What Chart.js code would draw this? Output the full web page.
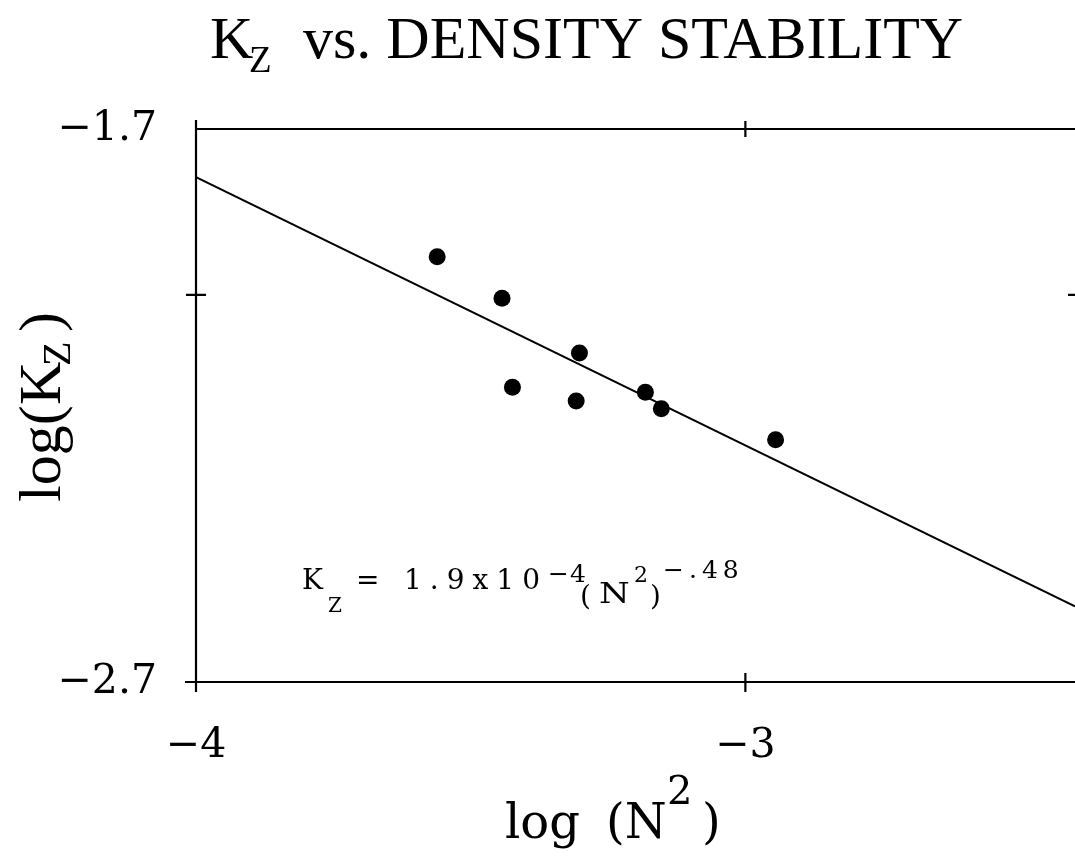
<!DOCTYPE html>
<html>
<head>
<meta charset="utf-8">
<script src="https://cdn.jsdelivr.net/npm/chart.js@4"></script>
<style>
  body { margin: 0; background: #fff; }
  #wrap { width: 1075px; height: 865px; }
</style>
</head>
<body>
<div id="wrap"><canvas id="chart" width="1075" height="865"></canvas></div>
<script>
// observed points, log(N^2) vs log(Kz)
var logN2 = [-3.561, -3.443, -3.302, -3.424, -3.308, -3.182, -3.153, -2.945];
var logKz = [-1.931, -2.006, -2.105, -2.167, -2.192, -2.176, -2.206, -2.262];

// fitted line end points (Kz = 1.9x10^-4 (N^2)^-.48)
var fitX = [-4, -2.4];
var fitY = [-1.787, -2.563];

// axis ticks
var xTicks = [-4, -3];
var xTickLabels = ["\u22124", "\u22123"];
var yTicks = [-1.7, -2.0, -2.7];
var yTickLabels = ["\u22121.7", "", "\u22122.7"];

var points = logN2.map(function (x, i) {
  return { x: x, y: logKz[i] };
});
var fitLine = fitX.map(function (x, i) {
  return { x: x, y: fitY[i] };
});

// draw text with baseline at y
function put(ctx, text, x, y, size, family) {
  ctx.font = size + "px " + family;
  ctx.fillText(text, x, y);
}

// same, one char at a time with extra gap (old plotter lettering is widely spaced)
function putSpaced(ctx, text, x, y, size, family, gap) {
  ctx.font = size + "px " + family;
  for (var i = 0; i < text.length; i++) {
    ctx.fillText(text[i], x, y);
    x += ctx.measureText(text[i]).width + gap;
  }
}

// same, stretched sideways
function putWide(ctx, text, x, y, size, family, sx) {
  ctx.save();
  ctx.translate(x, y);
  ctx.scale(sx, 1);
  put(ctx, text, 0, 0, size, family);
  ctx.restore();
}

var framePlugin = {
  id: "frame",
  afterDraw: function (c) {
    var ctx = c.ctx;
    var a = c.chartArea;
    var xs = c.scales.x;
    var ys = c.scales.y;
    var x0 = xs.getPixelForValue(xTicks[0]);

    ctx.save();
    ctx.strokeStyle = "#000";
    ctx.lineWidth = 2.2;
    ctx.beginPath();
    // left axis
    ctx.moveTo(x0, a.top - 9);
    ctx.lineTo(x0, a.bottom + 10);
    // top and bottom lines
    ctx.moveTo(x0, a.top);
    ctx.lineTo(a.right, a.top);
    ctx.moveTo(x0 - 11, a.bottom);
    ctx.lineTo(a.right, a.bottom);
    // y ticks (crossing)
    yTicks.forEach(function (v) {
      if (v === ys.max) return;
      var py = ys.getPixelForValue(v);
      ctx.moveTo(x0 - 10, py);
      ctx.lineTo(x0 + 10, py);
    });
    // right edge tick
    var pr = ys.getPixelForValue(yTicks[1]);
    ctx.moveTo(a.right - 7, pr);
    ctx.lineTo(a.right, pr);
    // x ticks (crossing), bottom and top
    xTicks.forEach(function (v) {
      var px = xs.getPixelForValue(v);
      ctx.moveTo(px, a.bottom - 9);
      ctx.lineTo(px, a.bottom + 10);
      if (v !== xs.min) {
        ctx.moveTo(px, a.top - 8);
        ctx.lineTo(px, a.top + 8);
      }
    });
    ctx.stroke();

    ctx.fillStyle = "#000";
    ctx.textAlign = "left";
    ctx.textBaseline = "alphabetic";

    // title
    var tf = "'Liberation Serif', serif";
    put(ctx, "K", 210, 58, 60, tf);
    put(ctx, "Z", 249, 72, 37, tf);
    put(ctx, "vs. DENSITY STABILITY", 303, 58, 60, tf);

    // y axis title, rotated
    ctx.save();
    ctx.translate(60, 502);
    ctx.rotate(-Math.PI / 2);
    put(ctx, "log(", 0, 0, 60, tf);
    put(ctx, "K", 97, 0, 60, tf);
    put(ctx, "Z", 136, 10, 40, tf);
    put(ctx, ")", 170, 0, 60, tf);
    ctx.restore();

    // x axis title
    var df = "'DejaVu Serif', serif";
    put(ctx, "log", 505, 838, 48, df);
    put(ctx, "(N", 606, 838, 48, df);
    put(ctx, "2", 667, 804, 40, df);
    put(ctx, ")", 702, 838, 48, df);

    // equation
    put(ctx, "K", 302, 589, 28, df);
    put(ctx, "Z", 328, 612, 20, df);
    put(ctx, "=", 356, 589, 28, df);
    putSpaced(ctx, "1.9x10", 404, 589, 28, df, 8);
    putSpaced(ctx, "\u22124", 548, 582, 25, df, 1);
    put(ctx, "(", 580, 605, 28, df);
    putWide(ctx, "N", 599, 603, 27, df, 1.3);
    put(ctx, "2", 634, 582, 22, df);
    put(ctx, ")", 650, 605, 28, df);
    putSpaced(ctx, "\u2212.48", 663, 578, 25, df, 5);

    ctx.restore();
  }
};

var chart = new Chart(document.getElementById("chart").getContext("2d"), {
  type: "scatter",
  data: {
    datasets: [
      {
        type: "line",
        data: fitLine,
        borderColor: "#000",
        borderWidth: 2,
        pointRadius: 0,
        fill: false,
        tension: 0
      },
      {
        data: points,
        backgroundColor: "#000",
        borderWidth: 0,
        pointRadius: 8.5,
        pointStyle: "circle"
      }
    ]
  },
  options: {
    responsive: false,
    animation: false,
    layout: {
      autoPadding: false,
      padding: { top: 129, left: 0, right: 0, bottom: 0 }
    },
    plugins: {
      legend: { display: false },
      tooltip: { enabled: false },
      title: { display: false }
    },
    scales: {
      x: {
        type: "linear",
        min: -4,
        max: -2.4,
        grid: { display: false, drawTicks: false },
        border: { display: false },
        afterBuildTicks: function (s) {
          s.ticks = xTicks.map(function (v) { return { value: v }; });
        },
        afterFit: function (s) {
          s.height = 183;
          s.paddingLeft = 0;
          s.paddingRight = 0;
        },
        ticks: {
          padding: 40,
          color: "#000",
          font: { family: "'DejaVu Serif', serif", size: 41 },
          callback: function (v, i) { return xTickLabels[i]; }
        }
      },
      y: {
        type: "linear",
        min: -2.7,
        max: -1.7,
        grid: { display: false, drawTicks: false },
        border: { display: false },
        afterBuildTicks: function (s) {
          s.ticks = yTicks.map(function (v) { return { value: v }; });
        },
        afterFit: function (s) { s.width = 196; },
        ticks: {
          padding: 39,
          color: "#000",
          font: { family: "'DejaVu Serif', serif", size: 41 },
          callback: function (v, i) { return yTickLabels[i]; }
        }
      }
    }
  },
  plugins: [framePlugin]
});
</script>
</body>
</html>
